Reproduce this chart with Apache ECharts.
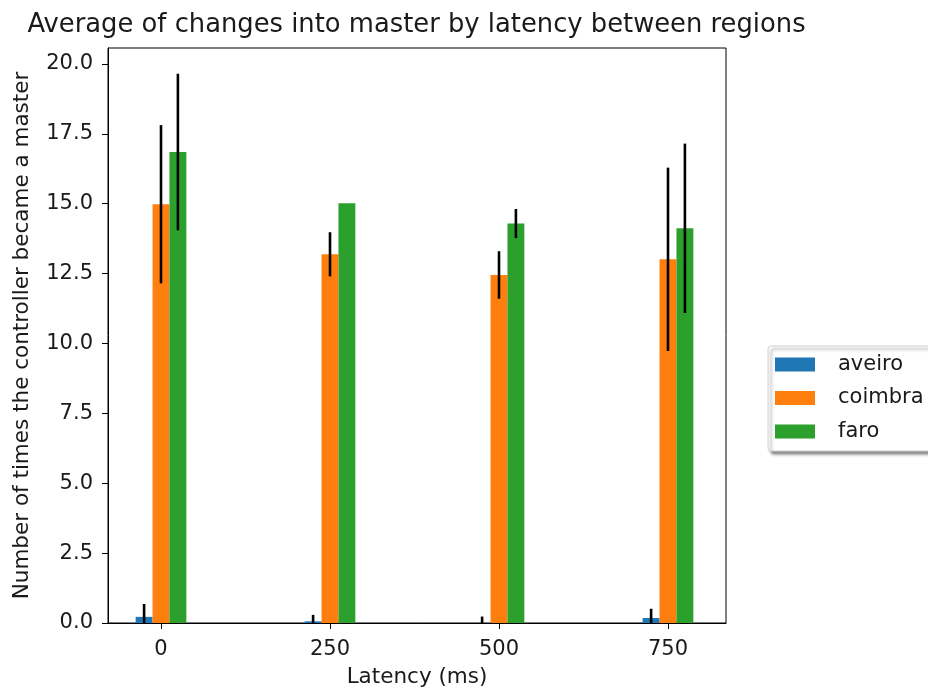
<!DOCTYPE html>
<html><head><meta charset="utf-8">
<script src="https://cdn.jsdelivr.net/npm/echarts@6/dist/echarts.min.js"></script>
<style>html,body{margin:0;padding:0;background:#fff}#c{width:928px;height:693px}</style>
</head><body><div id="c"></div>
<script>
const latencies = [0, 250, 500, 750];
const regionNames = ['aveiro', 'coimbra', 'faro'];
const aveiroMean = [0.22, 0.06, 0.0, 0.18];
const aveiroErr = [0.46, 0.23, 0.23, 0.33];
const coimbraMean = [14.98, 13.19, 12.45, 13.01];
const coimbraErr = [2.83, 0.79, 0.85, 3.28];
const faroMean = [16.85, 15.02, 14.29, 14.12];
const faroErr = [2.8, 0.0, 0.52, 3.03];
const yTicks = [0, 2.5, 5, 7.5, 10, 12.5, 15, 17.5, 20];

const colors = ['#1f77b4', '#ff7f0e', '#2ca02c'];
const means = [aveiroMean, coimbraMean, faroMean];
const errs = [aveiroErr, coimbraErr, faroErr];
const barW = 25;
const offsets = [-25, 0, 25];
const font = 'DejaVu Sans';
const txt = '#1a1a1a';

const series = [];
regionNames.forEach((name, i) => {
  series.push({
    name: name, type: 'custom', itemStyle: {color: colors[i]},
    clip: true,
    data: latencies.map((x, j) => [x + offsets[i], means[i][j]]),
    renderItem: (params, api) => {
      const x = api.value(0), v = api.value(1);
      const p1 = api.coord([x - barW / 2, v]);
      const p2 = api.coord([x + barW / 2, 0]);
      return {type: 'rect', shape: {x: p1[0], y: p1[1], width: p2[0] - p1[0], height: p2[1] - p1[1]},
        style: {fill: colors[i]}};
    },
    z: 2
  });
});
regionNames.forEach((name, i) => {
  series.push({
    name: name + '_err', type: 'custom', clip: true,
    data: latencies.map((x, j) => [x + offsets[i], means[i][j] - errs[i][j], means[i][j] + errs[i][j]]),
    renderItem: (params, api) => {
      const x = api.value(0);
      const a = api.coord([x, api.value(1)]);
      const b = api.coord([x, api.value(2)]);
      return {type: 'line', shape: {x1: a[0], y1: a[1], x2: b[0], y2: b[1]},
        style: {stroke: '#000', lineWidth: 2.6}};
    },
    z: 3
  });
});

const chart = echarts.init(document.getElementById('c'));
chart.setOption({
  animation: false,
  backgroundColor: '#fff',
  title: {text: 'Average of changes into master by latency between regions', left: 411.5, textAlign: 'center', top: 7,
    textStyle: {fontFamily: font, fontSize: 25.8, fontWeight: 'normal', color: txt}},
  grid: {left: 108, right: 202, top: 48, bottom: 70, show: true, borderColor: '#000', borderWidth: 1,
    containLabel: false, outerBoundsMode: 'none'},
  legend: {
    data: regionNames.map(n => ({name: n, icon: 'rect'})),
    orient: 'vertical', left: 768, top: 346, itemWidth: 40, itemHeight: 14, itemGap: 12.5,
    padding: [8, 14, 9, 7], borderColor: '#d0d0d0', borderWidth: 1, borderRadius: 3,
    backgroundColor: '#fff', shadowColor: 'rgba(0,0,0,0.45)', shadowBlur: 3, shadowOffsetX: 3, shadowOffsetY: 3,
    textStyle: {fontFamily: font, fontSize: 21, color: txt, padding: [0, 0, 0, 18]}
  },
  xAxis: {
    type: 'value', min: -78.4, max: 835.8,
    name: 'Latency (ms)', nameLocation: 'middle', nameGap: 43,
    nameTextStyle: {fontFamily: font, fontSize: 21.5, color: txt},
    axisLine: {show: true, onZero: false, lineStyle: {color: '#000'}},
    axisTick: {show: true, length: 6, lineStyle: {color: '#000'}, customValues: latencies},
    axisLabel: {fontFamily: font, fontSize: 21, color: txt, margin: 16, customValues: latencies},
    splitLine: {show: false}
  },
  yAxis: {
    type: 'value', min: 0, max: 20.57, interval: 2.5,
    name: 'Number of times the controller became a master', nameLocation: 'middle', nameGap: 75,
    nameTextStyle: {fontFamily: font, fontSize: 21.5, color: txt},
    axisLine: {show: true, onZero: false, lineStyle: {color: '#000'}},
    axisTick: {show: true, length: 6, lineStyle: {color: '#000'}, customValues: yTicks},
    axisLabel: {fontFamily: font, fontSize: 21, color: txt, margin: 15, customValues: yTicks,
      formatter: v => v.toFixed(1)},
    splitLine: {show: false}
  },
  series: series
});
</script></body></html>
